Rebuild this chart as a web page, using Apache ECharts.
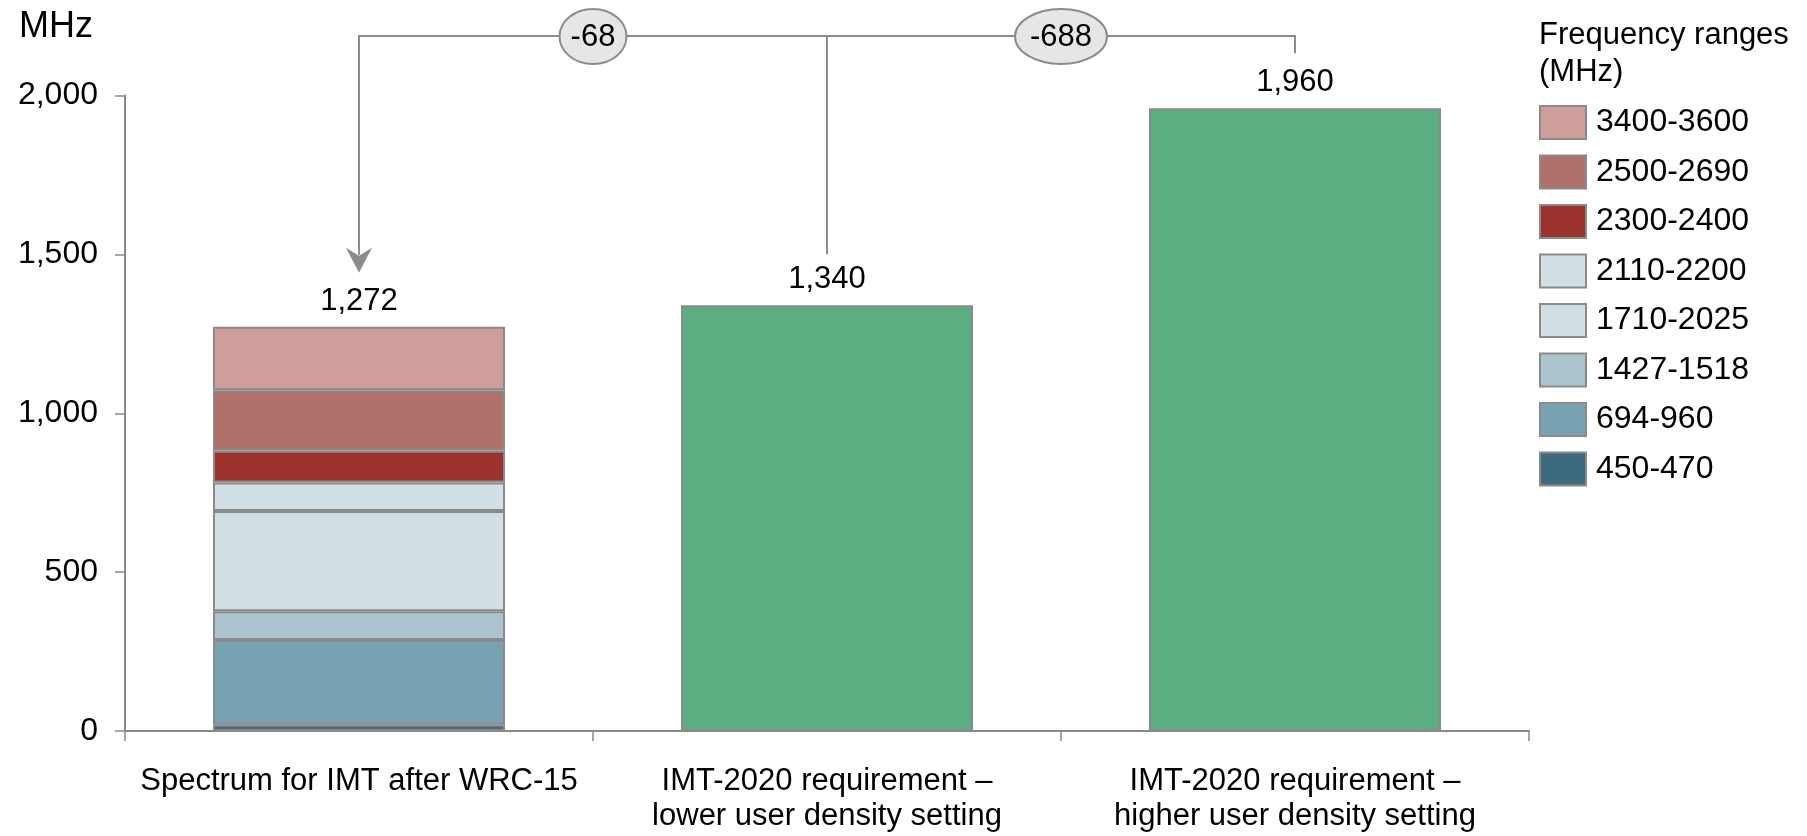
<!DOCTYPE html>
<html>
<head>
<meta charset="utf-8">
<script src="https://cdn.jsdelivr.net/npm/echarts@6/dist/echarts.min.js"></script>
<style>
html,body{margin:0;padding:0;background:#fff;}
#chart{width:1807px;height:836px;}
</style>
</head>
<body>
<div id="chart"></div>
<script>
// ---- data ----
const categories = [
  'Spectrum for IMT after WRC-15',
  'IMT-2020 requirement \u2013\nlower user density setting',
  'IMT-2020 requirement \u2013\nhigher user density setting'
];
const bandNames = ['450-470', '694-960', '1427-1518', '1710-2025', '2110-2200', '2300-2400', '2500-2690', '3400-3600'];
const bandValues = [20, 266, 91, 315, 90, 100, 190, 200];
const requirementValues = [null, 1340, 1960];
const yMin = 0, yMax = 2000, yInterval = 500;
const yAxisTitle = 'MHz';
const legendTitle = ['Frequency ranges', '(MHz)'];

// ---- style ----
const bandColors = ['#3E6A7E', '#79A3B3', '#ACC4CE', '#D2DFE5', '#D2DFE5', '#9B322B', '#B0716A', '#CE9E9B'];
const greenColor = '#5BAE82';
const borderGray = '#8a8a8a';
const FONT = '"Liberation Sans", Arial, sans-serif';
const FS = 31;

const fmt = v => Math.round(v).toLocaleString('en-US');
const total = bandValues.reduce((a, b) => a + b, 0);

const chart = echarts.init(document.getElementById('chart'));

const series = bandNames.map((name, i) => ({
  name: name,
  type: 'bar',
  stack: 'wrc',
  barWidth: '62.4%',
  barGap: '-100%',
  data: [bandValues[i], null, null],
  itemStyle: { color: bandColors[i], borderColor: borderGray, borderWidth: 2 },
  label: i === bandNames.length - 1 ? {
    show: true, position: 'top', distance: 10,
    formatter: () => fmt(total),
    color: '#000', fontSize: FS, fontFamily: FONT, lineHeight: FS
  } : { show: false },
  emphasis: { disabled: true },
  animation: false
}));

series.push({
  name: 'Requirement',
  type: 'bar',
  stack: 'req',
  barWidth: '62.4%',
  barGap: '-100%',
  data: requirementValues.map(v => v == null ? '-' : v),
  itemStyle: { color: greenColor, borderColor: borderGray, borderWidth: 2 },
  label: {
    show: true, position: 'top', distance: 10,
    formatter: p => fmt(p.value),
    color: '#000', fontSize: FS, fontFamily: FONT, lineHeight: FS
  },
  emphasis: { disabled: true },
  animation: false
});

chart.setOption({
  animation: false,
  textStyle: { fontFamily: FONT },
  grid: { left: 125, right: 278, top: 95.5, bottom: 105, containLabel: false },
  legend: {
    orient: 'vertical',
    left: 1539,
    top: 105,
    padding: 0,
    itemWidth: 46,
    itemHeight: 33,
    itemGap: 14.5,
    icon: 'rect',
    data: bandNames.slice().reverse(),
    itemStyle: { borderColor: borderGray, borderWidth: 2 },
    textStyle: { fontSize: 32, color: '#000', fontFamily: FONT, lineHeight: 33, padding: [0, 0, 0, 5] },
    selectedMode: false
  },
  xAxis: {
    type: 'category',
    data: categories,
    axisLine: { show: true, lineStyle: { color: borderGray, width: 2 } },
    axisTick: { show: true, length: 10, interval: 0, lineStyle: { color: borderGray, width: 1.5 } },
    axisLabel: { color: '#000', fontSize: FS, fontFamily: FONT, lineHeight: 35, margin: 33, interval: 0 }
  },
  yAxis: {
    type: 'value',
    min: yMin, max: yMax, interval: yInterval,
    axisLine: { show: true, lineStyle: { color: borderGray, width: 2 } },
    axisTick: { show: true, length: 10, lineStyle: { color: borderGray, width: 1.5 } },
    splitLine: { show: false },
    axisLabel: { color: '#000', fontSize: 32, fontFamily: FONT, margin: 27, formatter: v => fmt(v) }
  },
  series: series
});

// ---- annotation bracket ----
function drawAnnotations() {
  const x1 = chart.convertToPixel({ xAxisIndex: 0 }, 0);
  const x2 = chart.convertToPixel({ xAxisIndex: 0 }, 1);
  const x3 = chart.convertToPixel({ xAxisIndex: 0 }, 2);
  const topY1 = chart.convertToPixel({ yAxisIndex: 0 }, total);
  const topY2 = chart.convertToPixel({ yAxisIndex: 0 }, requirementValues[1]);
  const topY3 = chart.convertToPixel({ yAxisIndex: 0 }, requirementValues[2]);
  const lineY = 36;
  const tipY = topY1 - 54;
  const lineStyle = { stroke: '#8c8c8c', lineWidth: 2, fill: null };
  const d1 = total - requirementValues[1];
  const d2 = total - requirementValues[2];
  const m1 = (x1 + x2) / 2, m2 = (x2 + x3) / 2;

  const g = [
    { type: 'polyline', shape: { points: [[x1, tipY - 18], [x1, lineY], [x3, lineY], [x3, topY3 - 55]] }, style: lineStyle, z: 10 },
    { type: 'line', shape: { x1: x2, y1: lineY, x2: x2, y2: topY2 - 51 }, style: lineStyle, z: 10 },
    { type: 'polygon', shape: { points: [[x1, tipY], [x1 - 13, tipY - 25], [x1, tipY - 17], [x1 + 13, tipY - 25]] }, style: { fill: '#8c8c8c' }, z: 10 },
    { type: 'ellipse', shape: { cx: m1, cy: lineY + 0.5, rx: 33.5, ry: 27.5 }, style: { fill: '#E6E6E6', stroke: '#8c8c8c', lineWidth: 2 }, z: 11 },
    { type: 'text', x: m1, y: lineY + 1.5, style: { text: String(d1), fill: '#000', font: FS + 'px ' + FONT, textAlign: 'center', textVerticalAlign: 'middle' }, z: 12 },
    { type: 'ellipse', shape: { cx: m2, cy: lineY + 0.5, rx: 46, ry: 27.5 }, style: { fill: '#E6E6E6', stroke: '#8c8c8c', lineWidth: 2 }, z: 11 },
    { type: 'text', x: m2, y: lineY + 1.5, style: { text: String(d2), fill: '#000', font: FS + 'px ' + FONT, textAlign: 'center', textVerticalAlign: 'middle' }, z: 12 },
    { type: 'text', x: 19, y: 27, style: { text: yAxisTitle, fill: '#000', font: '36px ' + FONT, textAlign: 'left', textVerticalAlign: 'middle' }, z: 12 },
    { type: 'text', x: 1539, y: 35.5, style: { text: legendTitle[0], fill: '#000', font: FS + 'px ' + FONT, textAlign: 'left', textVerticalAlign: 'middle' }, z: 12 },
    { type: 'text', x: 1539, y: 72, style: { text: legendTitle[1], fill: '#000', font: FS + 'px ' + FONT, textAlign: 'left', textVerticalAlign: 'middle' }, z: 12 }
  ];
  chart.setOption({ graphic: g });
}
drawAnnotations();
</script>
</body>
</html>
